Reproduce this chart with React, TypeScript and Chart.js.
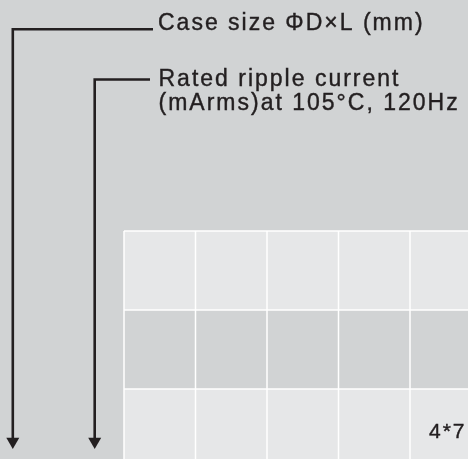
import React, { useEffect, useRef } from "react";
import { Chart, registerables } from "chart.js";

Chart.register(...registerables);

// ---- data ----
const tableColumns = ["c1", "c2", "c3", "c4", "c5"];
const tableRows = ["r1", "r2", "r3"];
const rowShades = ["light", "dark", "light"];
const cellTexts = [
  ["", "", "", "", ""],
  ["", "", "", "", ""],
  ["", "", "", "", "4*7"],
];
const calloutCaseSize = ["Case size \u03A6D\u00D7L (mm)"];
const calloutRipple = ["Rated ripple current", "(mArms)at 105\u00B0C, 120Hz"];

// diagram layout (in diagram units)
const W = 468;
const H = 459;
const TABLE = { x0: 124, y0: 231, colW: 71.5, rowH: 79 };
const BG = "#d1d3d4";
const LIGHT = "#e6e7e8";
const INK = "#231f20";

const arrow1 = [
  { x: 153, y: 29.3 },
  { x: 12.8, y: 29.3 },
  { x: 12.8, y: 441.5 },
];
const arrow2 = [
  { x: 150, y: 79.5 },
  { x: 94.7, y: 79.5 },
  { x: 94.7, y: 441.5 },
];

const diagramPlugin = {
  id: "diagram",
  beforeDatasetsDraw(chart: any) {
    const { ctx, scales } = chart;
    const sx = scales.x;
    const sy = scales.y;
    ctx.save();
    ctx.fillStyle = BG;
    ctx.fillRect(0, 0, chart.width, chart.height);
    const px = (v: number) => sx.getPixelForValue(v);
    const py = (v: number) => sy.getPixelForValue(v);
    tableRows.forEach((_, r) => {
      tableColumns.forEach((__, c) => {
        const x1 = px(TABLE.x0 + c * TABLE.colW);
        const x2 = px(TABLE.x0 + (c + 1) * TABLE.colW);
        const y1 = py(TABLE.y0 + r * TABLE.rowH);
        const y2 = py(TABLE.y0 + (r + 1) * TABLE.rowH);
        ctx.fillStyle = rowShades[r] === "light" ? LIGHT : BG;
        ctx.fillRect(x1, y1, x2 - x1, y2 - y1);
      });
    });
    ctx.strokeStyle = "#ffffff";
    ctx.lineWidth = 1.5;
    for (let c = 0; c <= tableColumns.length; c++) {
      const x = px(TABLE.x0 + c * TABLE.colW);
      ctx.beginPath();
      ctx.moveTo(x, py(TABLE.y0));
      ctx.lineTo(x, py(TABLE.y0 + tableRows.length * TABLE.rowH));
      ctx.stroke();
    }
    for (let r = 0; r <= tableRows.length; r++) {
      const y = py(TABLE.y0 + r * TABLE.rowH);
      ctx.beginPath();
      ctx.moveTo(px(TABLE.x0), y);
      ctx.lineTo(px(TABLE.x0 + tableColumns.length * TABLE.colW), y);
      ctx.stroke();
    }
    ctx.restore();
  },
  afterDatasetsDraw(chart: any) {
    const { ctx, scales } = chart;
    const px = (v: number) => scales.x.getPixelForValue(v);
    const py = (v: number) => scales.y.getPixelForValue(v);
    ctx.save();
    ctx.fillStyle = INK;
    ctx.strokeStyle = INK;
    ctx.lineWidth = 0.4;
    ctx.textAlign = "left";
    ctx.textBaseline = "alphabetic";
    (ctx as any).letterSpacing = "2px";
    ctx.font = '23px "Liberation Sans", Arial, sans-serif';
    const draw = (t: string, x: number, y: number) => {
      ctx.fillText(t, x, y);
      ctx.strokeText(t, x, y);
    };
    calloutCaseSize.forEach((t, i) => draw(t, px(158), py(29.5 + i * 24)));
    calloutRipple.forEach((t, i) => draw(t, px(158.5), py(86 + i * 24)));
    ctx.font = '21px "Liberation Sans", Arial, sans-serif';
    tableRows.forEach((_, r) => {
      tableColumns.forEach((__, c) => {
        const t = cellTexts[r][c];
        if (!t) return;
        draw(t, px(TABLE.x0 + c * TABLE.colW + 19), py(TABLE.y0 + r * TABLE.rowH + 49));
      });
    });
    ctx.restore();
  },
};

const arrowDataset = (data: { x: number; y: number }[]) => ({
  data,
  showLine: true,
  borderColor: INK,
  backgroundColor: INK,
  borderWidth: 2.6,
  borderJoinStyle: "miter" as const,
  pointStyle: "triangle" as const,
  rotation: 180,
  pointBorderWidth: 0,
  pointRadius: (c: any) => (c.dataIndex === data.length - 1 ? 7.5 : 0),
  pointHoverRadius: 0,
  tension: 0,
  clip: false,
});

export default function App() {
  const ref = useRef<HTMLCanvasElement>(null);
  useEffect(() => {
    if (!ref.current) return;
    const chart = new Chart(ref.current, {
      type: "scatter",
      data: { datasets: [arrowDataset(arrow1), arrowDataset(arrow2)] as any },
      options: {
        animation: false,
        responsive: false,
        maintainAspectRatio: false,
        layout: { padding: 0, autoPadding: false },
        events: [],
        plugins: { legend: { display: false }, tooltip: { enabled: false }, title: { display: false } },
        scales: {
          x: { type: "linear", min: 0, max: W, display: false },
          y: { type: "linear", min: 0, max: H, reverse: true, display: false },
        },
      },
      plugins: [diagramPlugin],
    });
    return () => chart.destroy();
  }, []);
  return (
    <div style={{ position: "fixed", left: 0, top: 0, width: W, height: H, background: BG }}>
      <canvas ref={ref} width={W} height={H} style={{ display: "block", width: W, height: H }} />
    </div>
  );
}
